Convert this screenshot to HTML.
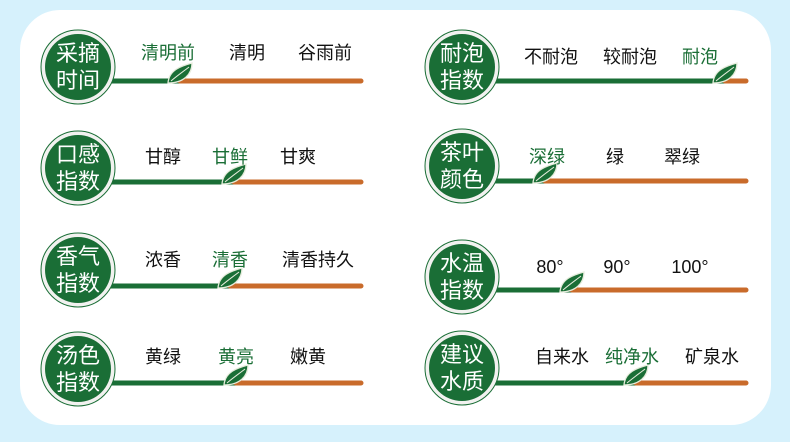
<!DOCTYPE html>
<html><head><meta charset="utf-8"><style>
html,body{margin:0;padding:0;background:#d6f1fc;}
svg{display:block;}
text{font-family:"Liberation Sans","Noto Sans CJK SC",sans-serif;}
</style></head><body>
<svg width="790" height="442" viewBox="0 0 790 442" xmlns="http://www.w3.org/2000/svg">
<defs>
<g id="leaf">
<path d="M-12 3 C-11 -10 1 -14 12 -17 C12 -6 4 3 -12 3 Z" fill="#1a6e36" stroke="#e6ecdc" stroke-width="1.3"/>
<path d="M-9 1 C-2 -5 4 -9 9 -13" stroke="#e6ecdc" stroke-width="1" fill="none"/>
</g>
<g id="circ">
<circle r="37" fill="#f2f2f0" stroke="#1a6e36" stroke-width="1"/>
<circle r="33" fill="#1a6e36"/>
</g>
</defs>
<rect x="20" y="10" width="751" height="415" rx="40" fill="#fff"/>

<g font-size="18" text-anchor="middle" fill="#111">
<line x1="78" y1="81" x2="180" y2="81" stroke="#1a6e36" stroke-width="5"/>
<line x1="180" y1="81" x2="361" y2="81" stroke="#c96b2b" stroke-width="5" stroke-linecap="round"/>
<use href="#circ" x="78" y="67"/>
<use href="#leaf" x="180" y="80"/>
<text x="168" y="59" fill="#1a6e36">清明前</text><text x="247" y="59">清明</text><text x="325" y="59">谷雨前</text>

<line x1="78" y1="182" x2="234" y2="182" stroke="#1a6e36" stroke-width="5"/>
<line x1="234" y1="182" x2="361" y2="182" stroke="#c96b2b" stroke-width="5" stroke-linecap="round"/>
<use href="#circ" x="78" y="168"/>
<use href="#leaf" x="234" y="181"/>
<text x="163" y="163">甘醇</text><text x="230" y="163" fill="#1a6e36">甘鲜</text><text x="298" y="163">甘爽</text>

<line x1="78" y1="286" x2="230" y2="286" stroke="#1a6e36" stroke-width="5"/>
<line x1="230" y1="286" x2="361" y2="286" stroke="#c96b2b" stroke-width="5" stroke-linecap="round"/>
<use href="#circ" x="78" y="270"/>
<use href="#leaf" x="230" y="285"/>
<text x="163" y="266">浓香</text><text x="230" y="266" fill="#1a6e36">清香</text><text x="318" y="266">清香持久</text>

<line x1="78" y1="383" x2="236" y2="383" stroke="#1a6e36" stroke-width="5"/>
<line x1="236" y1="383" x2="361" y2="383" stroke="#c96b2b" stroke-width="5" stroke-linecap="round"/>
<use href="#circ" x="78" y="369"/>
<use href="#leaf" x="236" y="382"/>
<text x="163" y="363">黄绿</text><text x="236" y="363" fill="#1a6e36">黄亮</text><text x="308" y="363">嫩黄</text>

<line x1="462" y1="81" x2="725" y2="81" stroke="#1a6e36" stroke-width="5"/>
<line x1="725" y1="81" x2="746" y2="81" stroke="#c96b2b" stroke-width="5" stroke-linecap="round"/>
<use href="#circ" x="462" y="67"/>
<use href="#leaf" x="725" y="80"/>
<text x="551" y="63">不耐泡</text><text x="630" y="63">较耐泡</text><text x="700" y="63" fill="#1a6e36">耐泡</text>

<line x1="462" y1="181" x2="545" y2="181" stroke="#1a6e36" stroke-width="5"/>
<line x1="545" y1="181" x2="746" y2="181" stroke="#c96b2b" stroke-width="5" stroke-linecap="round"/>
<use href="#circ" x="462" y="166"/>
<use href="#leaf" x="545" y="180"/>
<text x="547" y="163" fill="#1a6e36">深绿</text><text x="615" y="163">绿</text><text x="682" y="163">翠绿</text>

<line x1="462" y1="290" x2="572" y2="290" stroke="#1a6e36" stroke-width="5"/>
<line x1="572" y1="290" x2="746" y2="290" stroke="#c96b2b" stroke-width="5" stroke-linecap="round"/>
<use href="#circ" x="462" y="277"/>
<use href="#leaf" x="572" y="289"/>
<text x="550" y="273">80°</text><text x="617" y="273">90°</text><text x="690" y="273">100°</text>

<line x1="462" y1="383" x2="636" y2="383" stroke="#1a6e36" stroke-width="5"/>
<line x1="636" y1="383" x2="746" y2="383" stroke="#c96b2b" stroke-width="5" stroke-linecap="round"/>
<use href="#circ" x="462" y="368"/>
<use href="#leaf" x="636" y="382"/>
<text x="562" y="363">自来水</text><text x="632" y="363" fill="#1a6e36">纯净水</text><text x="712" y="363">矿泉水</text>
</g>

<g font-size="22" text-anchor="middle" fill="#fff">
<text x="78" y="61">采摘</text><text x="78" y="88">时间</text>
<text x="78" y="162">口感</text><text x="78" y="189">指数</text>
<text x="78" y="264">香气</text><text x="78" y="291">指数</text>
<text x="78" y="363">汤色</text><text x="78" y="390">指数</text>
<text x="462" y="61">耐泡</text><text x="462" y="88">指数</text>
<text x="462" y="160">茶叶</text><text x="462" y="187">颜色</text>
<text x="462" y="271">水温</text><text x="462" y="298">指数</text>
<text x="462" y="362">建议</text><text x="462" y="389">水质</text>
</g>
</svg>
</body></html>
